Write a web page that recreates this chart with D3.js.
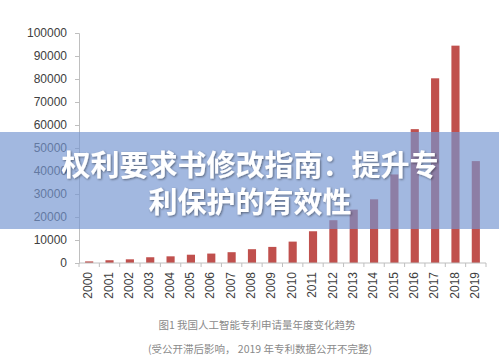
<!DOCTYPE html>
<html>
<head>
<meta charset="utf-8">
<script src="https://cdn.jsdelivr.net/npm/d3@7"></script>
<style>
  html, body { margin: 0; padding: 0; background: #fff; }
  svg { display: block; }
</style>
</head>
<body>
<svg id="chart" width="499" height="362"></svg>
<script>
// years on the x axis
const years = ["2000","2001","2002","2003","2004","2005","2006","2007","2008","2009",
  "2010","2011","2012","2013","2014","2015","2016","2017","2018","2019"];
// patent applications per year
const applications = [700, 1200, 1600, 2500, 2900, 3600, 4100, 4700, 6000, 7000,
  9300, 13800, 18600, 23200, 27700, 38500, 58200, 80300, 94500, 44300];
const yTicks = [0, 10000, 20000, 30000, 40000, 50000, 60000, 70000, 80000, 90000, 100000];
const titleLines = ["权利要求书修改指南：提升专", "利保护的有效性"];
const captionLines = ["图1 我国人工智能专利申请量年度变化趋势", "(受公开滞后影响， 2019 年专利数据公开不完整)"];

const svg = d3.select("#chart");
const margin = {left: 79, right: 13, top: 33, bottom: 99};
const W = 499, H = 362;

const x = d3.scaleBand()
  .domain(years)
  .range([margin.left, W - margin.right])
  .paddingInner(0.6)
  .paddingOuter(0.3);

const y = d3.scaleLinear()
  .domain([0, 100000])
  .range([H - margin.bottom, margin.top]);

// bars
svg.append("g")
  .selectAll("rect")
  .data(years)
  .enter()
    .append("rect")
    .attr("fill", "#c0504d")
    .attr("x", d => x(d))
    .attr("y", (d, i) => y(applications[i]))
    .attr("width", x.bandwidth())
    .attr("height", (d, i) => y(0) - y(applications[i]));

// y axis
const yAxis = svg.append("g")
  .attr("transform", `translate(${margin.left},0)`)
  .call(d3.axisLeft(y).tickValues(yTicks).tickSize(4).tickPadding(8).tickFormat(d3.format("d")));
yAxis.select(".domain").attr("stroke", "#bfbfbf");
yAxis.selectAll(".tick line").attr("stroke", "#bfbfbf");
yAxis.selectAll("text")
  .attr("fill", "#404040")
  .style("font-family", "'Liberation Sans', Arial, sans-serif")
  .style("font-size", "12px");
yAxis.selectAll(".tick text").attr("x", -12);

// x axis
const xg = svg.append("g");
xg.append("line")
  .attr("x1", margin.left).attr("x2", W - margin.right)
  .attr("y1", y(0)).attr("y2", y(0))
  .attr("stroke", "#bfbfbf");
const step = x.step();
xg.selectAll(".xtick")
  .data(d3.range(years.length + 1))
  .enter()
    .append("line")
    .attr("class", "xtick")
    .attr("x1", i => margin.left + i * step)
    .attr("x2", i => margin.left + i * step)
    .attr("y1", y(0)).attr("y2", y(0) + 4)
    .attr("stroke", "#bfbfbf");
xg.selectAll(".xlabel")
  .data(years)
  .enter()
    .append("text")
    .attr("class", "xlabel")
    .attr("transform", d => `translate(${x(d) + x.bandwidth() / 2},${y(0) + 9}) rotate(-90)`)
    .attr("text-anchor", "end")
    .attr("dominant-baseline", "middle")
    .attr("fill", "#404040")
    .style("font-family", "'Liberation Sans', Arial, sans-serif")
    .style("font-size", "12px")
    .text(d => d);

// captions
svg.append("g")
  .selectAll("text")
  .data(captionLines)
  .enter()
    .append("text")
    .attr("x", (d, i) => i == 0 ? 257 : 260)
    .attr("y", (d, i) => 326 + i * 24)
    .attr("text-anchor", "middle")
    .attr("dominant-baseline", "middle")
    .attr("fill", "#8a8a8a")
    .style("font-family", "'Noto Sans CJK SC', sans-serif")
    .style("font-size", "10.5px")
    .text(d => d);

// translucent blue band with the headline
svg.append("rect")
  .attr("x", 0).attr("y", 132)
  .attr("width", W).attr("height", 97)
  .attr("fill", "rgb(116,149,209)")
  .attr("fill-opacity", 0.67);

const defs = svg.append("defs");
const f = defs.append("filter").attr("id", "shadow").attr("x", "-10%").attr("y", "-30%").attr("width", "120%").attr("height", "160%");
f.append("feDropShadow").attr("dx", 1).attr("dy", 1).attr("stdDeviation", 1.2)
  .attr("flood-color", "#000").attr("flood-opacity", 0.45);

svg.append("g")
  .selectAll("text")
  .data(titleLines)
  .enter()
    .append("text")
    .attr("x", 250)
    .attr("y", (d, i) => 163 + i * 37)
    .attr("text-anchor", "middle")
    .attr("dominant-baseline", "central")
    .attr("fill", "#fff")
    .attr("filter", "url(#shadow)")
    .style("font-family", "'Noto Sans CJK SC', sans-serif")
    .style("font-weight", "bold")
    .style("font-size", "29px")
    .text(d => d);
</script>
</body>
</html>
